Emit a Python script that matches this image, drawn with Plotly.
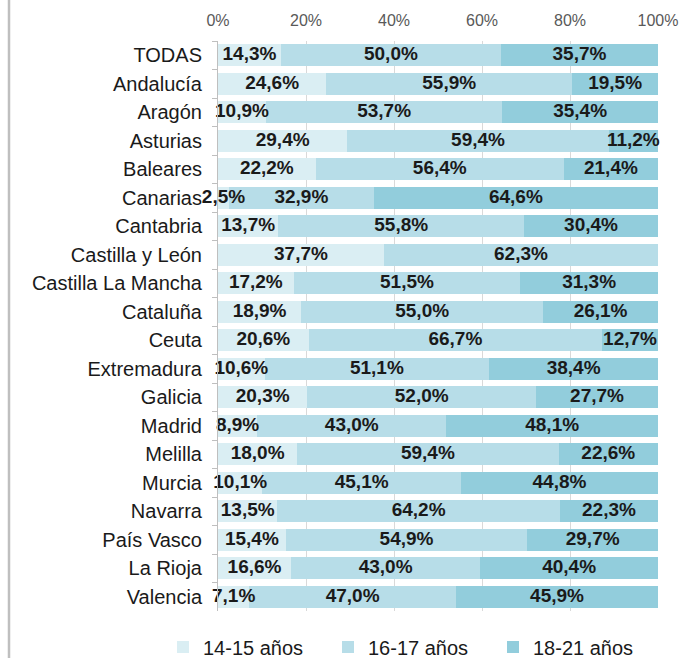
import plotly.graph_objects as go

categories = ["TODAS", "Andalucía", "Aragón", "Asturias", "Baleares", "Canarias",
              "Cantabria", "Castilla y León", "Castilla La Mancha", "Cataluña", "Ceuta",
              "Extremadura", "Galicia", "Madrid", "Melilla", "Murcia", "Navarra",
              "País Vasco", "La Rioja", "Valencia"]

s14_15 = [14.3, 24.6, 10.9, 29.4, 22.2, 2.5, 13.7, 37.7, 17.2, 18.9, 20.6,
          10.6, 20.3, 8.9, 18.0, 10.1, 13.5, 15.4, 16.6, 7.1]
s16_17 = [50.0, 55.9, 53.7, 59.4, 56.4, 32.9, 55.8, 62.3, 51.5, 55.0, 66.7,
          51.1, 52.0, 43.0, 59.4, 45.1, 64.2, 54.9, 43.0, 47.0]
s18_21 = [35.7, 19.5, 35.4, 11.2, 21.4, 64.6, 30.4, 0.0, 31.3, 26.1, 12.7,
          38.4, 27.7, 48.1, 22.6, 44.8, 22.3, 29.7, 40.4, 45.9]

series_names = ["14-15 años", "16-17 años", "18-21 años"]
series_values = [s14_15, s16_17, s18_21]
colors = ["#DAEEF3", "#B7DDE8", "#92CDDC"]
x_ticks = [0, 0.2, 0.4, 0.6, 0.8, 1.0]

# 100% stacked: each row normalised to its total
row_totals = [a + b + c for a, b, c in zip(s14_15, s16_17, s18_21)]

FONT = "Liberation Sans, Arial, sans-serif"


def fmt(v):
    return "" if v == 0 else f"{v:.1f}%".replace(".", ",")


fig = go.Figure()
shares_list = []
for name, vals, col in zip(series_names, series_values, colors):
    shares = [v / t for v, t in zip(vals, row_totals)]
    shares_list.append(shares)
    fig.add_trace(go.Bar(
        y=categories,
        x=shares,
        name=name,
        orientation="h",
        marker=dict(color=col, line=dict(width=0)),
        hoverinfo="skip",
    ))

# value labels drawn on top of all bars, centred in each segment
base = [0.0] * len(categories)
for name, vals, shares in zip(series_names, series_values, shares_list):
    mids = [b + s / 2 for b, s in zip(base, shares)]
    fig.add_trace(go.Scatter(
        y=categories,
        x=mids,
        mode="text",
        text=[fmt(v) for v in vals],
        textposition="middle center",
        textfont=dict(family=FONT, size=19, color="#1a1a1a", weight="bold"),
        showlegend=False,
        hoverinfo="skip",
        cliponaxis=False,
    ))
    base = [b + s for b, s in zip(base, shares)]

fig.update_layout(
    barmode="stack",
    bargap=0.23,
    width=682,
    height=658,
    margin=dict(l=218, r=24, t=41, b=47, autoexpand=False),
    paper_bgcolor="white",
    plot_bgcolor="white",
    font=dict(family=FONT, color="#262626"),
    showlegend=True,
    legend=dict(orientation="h", x=-0.125, xanchor="left", y=-0.063, yanchor="middle",
                font=dict(size=20, color="#1a1a1a"),
                entrywidth=120, entrywidthmode="pixels",
                traceorder="normal", bgcolor="rgba(0,0,0,0)"),
    xaxis=dict(side="top", range=[0, 1], tickvals=x_ticks, tickformat=".0%",
               showgrid=True, gridcolor="#D9D9D9", gridwidth=1, zeroline=False,
               tickfont=dict(size=16, color="#595959"), ticks="",
               ticklabelstandoff=11, automargin=False, fixedrange=True),
    yaxis=dict(range=[len(categories) - 0.5, -0.5], autorange=False,
               showline=True, linecolor="#BFBFBF", linewidth=1,
               ticks="outside", tickson="boundaries", ticklen=5, tickcolor="#BFBFBF",
               ticklabelstandoff=11, automargin=False,
               tickfont=dict(size=20, color="#1a1a1a"), showgrid=False, fixedrange=True),
    shapes=[dict(type="line", xref="paper", yref="paper",
                 x0=-0.475, x1=-0.475, y0=-0.0825, y1=1.072,
                 line=dict(color="#BFBFBF", width=2.5))],
)

fig.write_html("out.html", config={"displayModeBar": False},
               post_script="document.body.style.margin='0';")
